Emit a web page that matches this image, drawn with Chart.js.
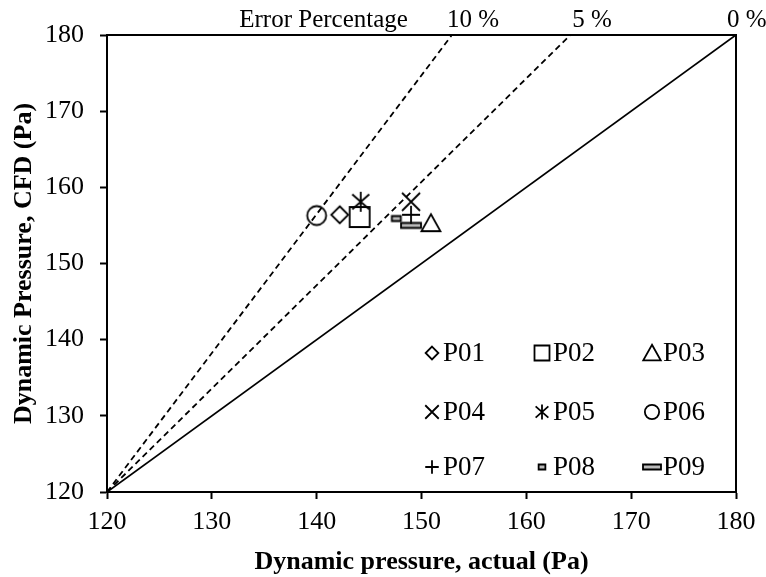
<!DOCTYPE html>
<html>
<head>
<meta charset="utf-8">
<script src="https://cdn.jsdelivr.net/npm/chart.js"></script>
<style>
  html, body { margin: 0; padding: 0; background: #fff; }
</style>
</head>
<body>
<canvas id="pressure" width="766" height="577"></canvas>
<script>
// values
var seriesNames = ['P01', 'P02', 'P03', 'P04', 'P05', 'P06', 'P07', 'P08', 'P09'];
var actualValues = [142.2, 144.1, 150.9, 149.0, 144.2, 140.0, 149.0, 147.6, 149.0];
var cfdValues = [156.4, 156.1, 155.3, 158.1, 158.1, 156.3, 156.4, 155.9, 155.0];
var markerTypes = ['diamond', 'square', 'triangle', 'x', 'asterisk', 'circle', 'plus', 'smallbar', 'widebar'];

// error lines all start at the lower left corner (120,120)
var errorLabels = ['10 %', '5 %', '0 %'];
var errorLineEndX = [152.9, 164.2, 180];
var errorLineEndY = [180, 180, 180];
var axisRange = [120, 180];

var FONT = '"Liberation Serif", "Times New Roman", serif';

function makeMarker(type, s) {
  var c = document.createElement('canvas');
  c.width = 28; c.height = 28;
  var g = c.getContext('2d');
  var m = 14;
  g.strokeStyle = '#000';
  g.lineWidth = 1.8;
  g.beginPath();
  switch (type) {
    case 'diamond':
      g.moveTo(m, m - 8.5 * s); g.lineTo(m + 8.5 * s, m); g.lineTo(m, m + 8.5 * s); g.lineTo(m - 8.5 * s, m); g.closePath();
      break;
    case 'square':
      g.rect(m - 10 * s, m - 10 * s, 20 * s, 20 * s);
      break;
    case 'triangle':
      s = Math.max(s, 0.92);
      g.moveTo(m, m - 9 * s); g.lineTo(m + 9.5 * s, m + 8 * s); g.lineTo(m - 9.5 * s, m + 8 * s); g.closePath();
      break;
    case 'x':
      g.moveTo(m - 9 * s, m - 9 * s); g.lineTo(m + 9 * s, m + 9 * s);
      g.moveTo(m + 9 * s, m - 9 * s); g.lineTo(m - 9 * s, m + 9 * s);
      break;
    case 'asterisk':
      g.moveTo(m, m - 10 * s); g.lineTo(m, m + 10 * s);
      g.moveTo(m - 8.5 * s, m - 7.5 * s); g.lineTo(m + 8.5 * s, m + 7.5 * s);
      g.moveTo(m + 8.5 * s, m - 7.5 * s); g.lineTo(m - 8.5 * s, m + 7.5 * s);
      break;
    case 'circle':
      g.arc(m, m, 9.5 * s, 0, Math.PI * 2);
      break;
    case 'plus':
      g.moveTo(m - 9 * s, m); g.lineTo(m + 9 * s, m);
      g.moveTo(m, m - 9 * s); g.lineTo(m, m + 9 * s);
      break;
    case 'smallbar':
      g.rect(m - 4.5 * s, m - 2.5, 9 * s, 5);
      g.fillStyle = '#bbb'; g.fill();
      break;
    case 'widebar':
      s = Math.max(s, 0.9);
      g.rect(m - 10 * s, m - 2.5, 20 * s, 5);
      g.fillStyle = '#bbb'; g.fill();
      break;
  }
  g.stroke();
  return c;
}

var plotMarkers = markerTypes.map(function (t) { return makeMarker(t, 1); });
var legendMarkers = markerTypes.map(function (t) { return makeMarker(t, 0.75); });

var datasets = [];
errorLineEndX.forEach(function (x, i) {
  datasets.push({
    type: 'line',
    label: errorLabels[i],
    data: [{ x: axisRange[0], y: axisRange[0] }, { x: x, y: errorLineEndY[i] }],
    borderColor: '#000',
    borderWidth: 1.8,
    borderDash: i < 2 ? [6, 4] : [],
    pointRadius: 0,
    fill: false
  });
});
seriesNames.forEach(function (n, i) {
  datasets.push({
    type: 'scatter',
    label: n,
    data: [{ x: actualValues[i], y: cfdValues[i] }],
    pointStyle: plotMarkers[i],
    pointRadius: 10
  });
});

// box around the plot, legend grid and the top labels
var extras = {
  id: 'extras',
  afterDraw: function (chart) {
    var ctx = chart.ctx, a = chart.chartArea, xs = chart.scales.x;
    ctx.save();
    ctx.strokeStyle = '#000';
    ctx.lineWidth = 2;
    ctx.strokeRect(a.left, a.top, a.right - a.left, a.bottom - a.top);

    ctx.fillStyle = '#000';
    ctx.font = '27px ' + FONT;
    ctx.textBaseline = 'middle';
    var colX = [325, 435, 545], rowY = [318, 377, 432];
    seriesNames.forEach(function (n, i) {
      var cx = a.left + colX[i % 3], cy = a.top + rowY[Math.floor(i / 3)];
      ctx.drawImage(legendMarkers[i], cx - 14, cy - 14);
      ctx.textAlign = 'left';
      ctx.fillText(n, cx + 11, cy + 1);
    });

    ctx.font = '25px ' + FONT;
    var ty = a.top - 15;
    var offs = [-5, 2, -9];
    errorLabels.forEach(function (t, i) {
      ctx.textAlign = 'left';
      ctx.fillText(t, xs.getPixelForValue(errorLineEndX[i]) + offs[i], ty);
    });
    ctx.textAlign = 'right';
    ctx.fillText('Error Percentage', xs.getPixelForValue(errorLineEndX[0]) - 44, ty);
    ctx.restore();
  }
};

function axisOpts(title, fitSize, isX) {
  return {
    type: 'linear',
    min: axisRange[0],
    max: axisRange[1],
    afterFit: function (s) { if (isX) s.height = fitSize; else s.width = fitSize; },
    ticks: { stepSize: 10, color: '#000', font: { family: FONT, size: 26 }, padding: isX ? 8 : 16 },
    grid: { drawOnChartArea: false, drawTicks: true, tickLength: 7, tickColor: '#000', tickWidth: 2 },
    border: { display: true, color: '#000', width: 2 },
    title: {
      display: true, text: title, color: '#000',
      font: { family: FONT, size: 26, weight: 'bold', lineHeight: 1.1 },
      padding: isX ? { top: 0, bottom: 0 } : { top: 10, bottom: 0 }
    }
  };
}

new Chart('pressure', {
  type: 'scatter',
  data: { datasets: datasets },
  options: {
    responsive: false,
    animation: false,
    devicePixelRatio: 1,
    layout: { padding: { left: 0, top: 35, right: 30, bottom: 0 } },
    scales: {
      x: axisOpts('Dynamic pressure, actual (Pa)', 85, true),
      y: axisOpts('Dynamic Pressure, CFD (Pa)', 107, false)
    },
    plugins: { legend: { display: false }, tooltip: { enabled: false } }
  },
  plugins: [extras]
});
</script>
</body>
</html>
